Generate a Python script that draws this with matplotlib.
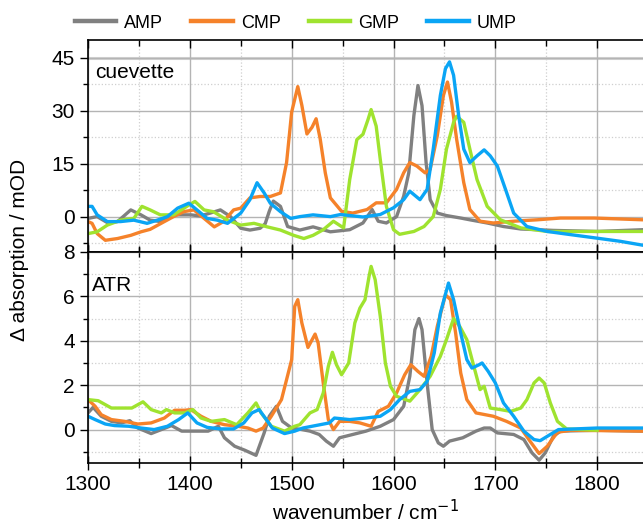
import numpy as np
import matplotlib
matplotlib.use("Agg")
import matplotlib.pyplot as plt
from matplotlib.ticker import MultipleLocator

plt.rcParams['font.family'] = ['Liberation Sans', 'DejaVu Sans']

names = ['AMP', 'CMP', 'GMP', 'UMP']
colors = ['#808080', '#f5822a', '#9fe32f', '#0aa5f5']

# cuevette (top panel), wavenumber / cm-1 and absorption / mOD
cuv_amp_wn = [1300, 1309, 1319, 1329, 1342, 1352, 1361, 1371, 1381, 1391, 1401, 1410, 1420, 1430,
              1440, 1450, 1459, 1469, 1474, 1478, 1482, 1489, 1496, 1508, 1521, 1538, 1557, 1570,
              1579, 1585, 1593, 1603, 1610, 1615, 1620, 1624, 1628, 1632, 1636, 1643, 1652, 1666,
              1675, 1692, 1708, 1725, 1757, 1800, 1845]
cuv_amp = [-0.5, 0, -1.7, -1.4, 1.9, 0.5, -1, -1.4, 0.5, 0.5, 0.5, 0.2, 1, 1.9,
           0, -3.3, -3.8, -3.3, -2.0, 1.5, 4.4, 2.9, -2.8, -3.8, -2.9, -4.3, -3.7, -1.8,
           2, -1.3, -1.8, 0, 5.8, 12.4, 28.6, 37.1, 31.4, 15.3, 4.8, 1, 0.3, -0.4,
           -0.9, -1.8, -2.8, -3.5, -3.9, -4.2, -3.7]

cuv_cmp_wn = [1300, 1304, 1309, 1317, 1329, 1342, 1352, 1361, 1375, 1384, 1394, 1404, 1414, 1424,
              1433, 1443, 1450, 1459, 1469, 1479, 1489, 1495, 1500, 1506, 1510, 1515, 1520, 1524,
              1528, 1533, 1538, 1549, 1560, 1574, 1583, 1593, 1603, 1610, 1616, 1623, 1631, 1636,
              1643, 1649, 1653, 1657, 1662, 1669, 1675, 1685, 1698, 1718, 1741, 1764, 1797, 1845]
cuv_cmp = [-1.4, -1.9, -4.8, -6.7, -6.2, -5.3, -4.3, -3.6, -1.4, 0, 1.4, 1.9, -0.5, -2.9,
           -1.4, 1.9, 2.4, 5.3, 5.7, 5.7, 6.7, 15.3, 29.6, 36.8, 31.5, 23.4, 25.3, 27.7,
           22, 12.4, 5.3, 1.5, 1, 2, 3.9, 3.9, 7.7, 12.4, 15.3, 14.3, 12.4, 13.4,
           22.9, 34.3, 38.1, 32.4, 21.9, 9.6, 2, -1.3, -1.8, -1.3, -0.9, -0.4, -0.4, -0.9]

cuv_gmp_wn = [1300, 1309, 1319, 1332, 1345, 1353, 1361, 1371, 1384, 1397, 1405, 1414, 1423, 1437,
              1450, 1463, 1476, 1489, 1502, 1512, 1521, 1531, 1541, 1551, 1557, 1564, 1570, 1575,
              1578, 1583, 1587, 1593, 1600, 1606, 1620, 1630, 1639, 1646, 1652, 1659, 1662, 1669,
              1675, 1682, 1692, 1705, 1725, 1751, 1790, 1845]
cuv_gmp = [-4.8, -4.3, -2.4, -1, -0.5, 2.9, 1.9, 0.5, 0.5, 2.9, 4.3, 1.9, 1.4, -1,
           -2.4, -1.9, -2.9, -3.8, -5.3, -6.2, -5.3, -3.7, -1.3, -3.2, 10.5, 21.8, 23.3, 27.5,
           30.3, 25.6, 16.2, 2.9, -3.7, -5.0, -4.2, -2.8, 0, 7.7, 19.1, 26.7, 28.4, 26.7,
           19.1, 10.5, 2.9, -0.9, -3.2, -4.2, -4.2, -4.2]

cuv_ump_wn = [1300, 1304, 1309, 1319, 1332, 1345, 1358, 1368, 1378, 1388, 1399, 1407, 1417, 1427,
              1437, 1450, 1459, 1466, 1473, 1479, 1489, 1499, 1508, 1521, 1538, 1548, 1570, 1587,
              1600, 1610, 1616, 1626, 1633, 1639, 1646, 1651, 1655, 1659, 1664, 1669, 1675, 1682,
              1689, 1695, 1702, 1710, 1718, 1731, 1751, 1774, 1800, 1823, 1845]
cuv_ump = [2.9, 2.9, 0.5, -1.4, -1.4, -1, -1.9, -1, 0, 2.4, 3.8, 1.9, -0.5, -1,
           -1.9, 1, 4.8, 9.6, 6.7, 3.8, 1.4, -0.5, 0, 0.5, 0, 0.6, -0.1, 0.6,
           2.5, 4.8, 7.2, 4.8, 7.7, 19.1, 34.3, 41.9, 43.8, 40, 28.6, 19.1, 15.3, 17.2,
           18.9, 17.2, 14.3, 7.7, 1, -2.8, -4.2, -5.1, -6.1, -7, -8.1]

# ATR (bottom panel)
atr_amp_wn = [1300, 1305, 1313, 1323, 1333, 1341, 1349, 1362, 1372, 1382, 1392, 1405, 1418, 1428,
              1434, 1444, 1454, 1465, 1473, 1478, 1485, 1491, 1500, 1510, 1518, 1527, 1534, 1541,
              1547, 1560, 1573, 1587, 1600, 1610, 1616, 1621, 1625, 1628, 1633, 1638, 1644, 1649,
              1655, 1668, 1681, 1689, 1695, 1702, 1718, 1728, 1736, 1743, 1749, 1757, 1764, 1800, 1845]
atr_amp = [0.75, 1.0, 0.6, 0.37, 0.3, 0.4, 0.07, -0.18, 0, 0.18, -0.07, -0.07, -0.07, 0.15,
           -0.37, -0.75, -0.93, -1.16, -0.15, 0.6, 1.05, 0.37, 0.07, 0, -0.07, -0.22, -0.52, -0.75,
           -0.37, -0.22, -0.07, 0.15, 0.45, 1.05, 2.4, 4.5, 5.0, 4.5, 2.1, 0, -0.6, -0.75,
           -0.52, -0.37, -0.07, 0.07, 0.07, -0.15, -0.22, -0.45, -1.05, -1.38, -1.05, -0.3, -0.07, -0.03, -0.07]

atr_cmp_wn = [1300, 1307, 1313, 1323, 1336, 1349, 1362, 1375, 1385, 1395, 1401, 1411, 1421, 1434,
              1447, 1457, 1465, 1472, 1480, 1490, 1495, 1500, 1503, 1506, 1510, 1516, 1523, 1526,
              1531, 1536, 1541, 1547, 1557, 1567, 1578, 1585, 1595, 1603, 1611, 1617, 1624, 1630,
              1637, 1643, 1651, 1656, 1661, 1666, 1672, 1681, 1698, 1711, 1725, 1734, 1743, 1751,
              1761, 1774, 1845]
atr_cmp = [1.35, 1.05, 0.67, 0.45, 0.37, 0.25, 0.3, 0.52, 0.87, 0.87, 0.9, 0.6, 0.37, 0.22,
           0.15, 0.07, -0.07, 0.07, 0.6, 1.35, 2.25, 3.15, 5.55, 5.85, 4.8, 3.7, 4.3, 3.9,
           2.1, 0.45, 0, 0.37, 0.37, 0.3, 0.15, 0.82, 1.05, 1.65, 2.47, 2.92, 2.62, 2.4,
           3.3, 4.65, 6.07, 5.85, 4.35, 2.55, 1.35, 0.75, 0.6, 0.37, 0.07, -0.52, -1.08, -0.75,
           -0.12, -0.03, -0.07]

atr_gmp_wn = [1300, 1310, 1323, 1343, 1354, 1362, 1372, 1377, 1385, 1395, 1403, 1411, 1421, 1434,
              1446, 1457, 1465, 1470, 1480, 1493, 1503, 1508, 1518, 1525, 1531, 1536, 1540, 1544,
              1549, 1556, 1562, 1567, 1572, 1576, 1578, 1582, 1587, 1592, 1597, 1603, 1616, 1626,
              1636, 1646, 1652, 1659, 1665, 1672, 1678, 1685, 1689, 1695, 1705, 1715, 1725, 1731,
              1738, 1743, 1748, 1754, 1761, 1770, 1800]
atr_gmp = [1.35, 1.3, 0.97, 0.97, 1.25, 0.9, 0.75, 0.9, 0.75, 0.75, 0.9, 0.52, 0.37, 0.45,
           0.22, 0.75, 1.2, 0.75, 0.15, -0.07, 0.15, 0.22, 0.75, 0.9, 1.65, 2.85, 3.48, 2.92,
           2.47, 3.0, 4.8, 5.47, 5.85, 6.9, 7.35, 6.75, 5.1, 3.0, 1.95, 1.5, 1.28, 1.8,
           2.4, 3.3, 4.05, 5.0, 4.65, 4.05, 3.0, 1.8, 1.95, 0.97, 0.9, 0.82, 0.97, 1.35,
           2.1, 2.32, 2.1, 1.2, 0.37, 0.03, -0.03]

atr_ump_wn = [1300, 1307, 1317, 1326, 1340, 1352, 1365, 1378, 1389, 1398, 1407, 1417, 1430, 1443,
              1453, 1461, 1468, 1474, 1481, 1493, 1503, 1511, 1528, 1537, 1542, 1557, 1573, 1587,
              1597, 1606, 1616, 1626, 1633, 1640, 1646, 1654, 1659, 1666, 1672, 1677, 1684, 1687,
              1693, 1700, 1708, 1718, 1728, 1738, 1744, 1754, 1762, 1800, 1845]
atr_ump = [0.6, 0.45, 0.25, 0.18, 0.15, 0.07, 0, 0.15, 0.45, 0.75, 0.3, 0.1, 0.03, 0.03,
           0.3, 0.75, 0.9, 0.52, 0.07, -0.18, -0.07, 0.07, 0.22, 0.3, 0.52, 0.45, 0.52, 0.6,
           0.9, 1.35, 1.72, 1.8, 2.17, 3.45, 5.25, 6.6, 5.85, 4.35, 3.15, 2.77, 2.92, 3.0,
           2.62, 2.1, 1.2, 0.6, -0.07, -0.45, -0.5, -0.22, 0, 0.07, 0.07]

cuv = [(cuv_amp_wn, cuv_amp), (cuv_cmp_wn, cuv_cmp), (cuv_gmp_wn, cuv_gmp), (cuv_ump_wn, cuv_ump)]
atr = [(atr_amp_wn, atr_amp), (atr_cmp_wn, atr_cmp), (atr_gmp_wn, atr_gmp), (atr_ump_wn, atr_ump)]

fig = plt.figure(figsize=(6.43, 5.26), dpi=100)
ax1 = fig.add_axes([88/643, 0.521, 555/643, 0.403])
ax2 = fig.add_axes([88/643, 0.120, 555/643, 0.401])

fs = 15
lw = 2.4
for ax, data in [(ax1, cuv), (ax2, atr)]:
    for (wn, val), c, n in zip(data, colors, names):
        ax.plot(wn, val, color=c, lw=lw, label=n, solid_joinstyle='round')
    ax.set_xlim(1300, 1845)
    ax.xaxis.set_major_locator(MultipleLocator(100))
    ax.xaxis.set_minor_locator(MultipleLocator(50))
    ax.grid(which='major', color='#b4b4b4', lw=1.0)
    ax.grid(which='minor', color='#cfcfcf', lw=0.9, ls=':')
    ax.set_axisbelow(True)
    ax.tick_params(axis='y', which='both', left=True, right=True, labelsize=fs)
    ax.tick_params(axis='y', which='major', direction='out', length=6, width=1)
    ax.tick_params(axis='y', which='minor', direction='out', length=3.5, width=1)
    ax.tick_params(axis='x', which='both', top=True, labelsize=fs, direction='in', width=1)
    ax.tick_params(axis='x', which='major', length=6)
    ax.tick_params(axis='x', which='minor', length=4)
    ax.spines['right'].set_visible(False)
    for s in ['left', 'top', 'bottom']:
        ax.spines[s].set_linewidth(1.2)

ax1.set_ylim(-10, 50)
ax1.yaxis.set_major_locator(MultipleLocator(15))
ax1.yaxis.set_minor_locator(MultipleLocator(7.5))
ax1.tick_params(axis='x', labelbottom=False)
ax1.set_yticks([0, 15, 30, 45])
ax1.axhline(45, color='#d4d4d4', lw=2.2, zorder=0.5)
ax1.text(0.012, 0.845, 'cuevette', transform=ax1.transAxes, fontsize=fs, va='center', ha='left')

ax2.set_ylim(-1.5, 8)
ax2.yaxis.set_major_locator(MultipleLocator(2))
ax2.yaxis.set_minor_locator(MultipleLocator(1))
ax2.set_yticks([0, 2, 4, 6, 8])
ax2.tick_params(axis='x', which='major', direction='inout', length=10)
ax2.tick_params(axis='x', which='minor', direction='inout', length=7)
ax2.text(0.008, 0.843, 'ATR', transform=ax2.transAxes, fontsize=fs, va='center', ha='left')
ax2.set_xlabel('wavenumber / cm$^{-1}$', fontsize=fs, labelpad=4)

fig.text(0.031, 0.525, 'Δ absorption / mOD', rotation=90, fontsize=fs, va='center', ha='center')

handles, labels = ax1.get_legend_handles_labels()
leg = fig.legend(handles, labels, loc='center', bbox_to_anchor=(0.46, 0.956), ncol=4,
                 frameon=False, fontsize=13, handlelength=2.3, handletextpad=0.45, columnspacing=1.55)
for h in leg.get_lines():
    h.set_linewidth(3.2)

fig.savefig('out.png', dpi=100)
